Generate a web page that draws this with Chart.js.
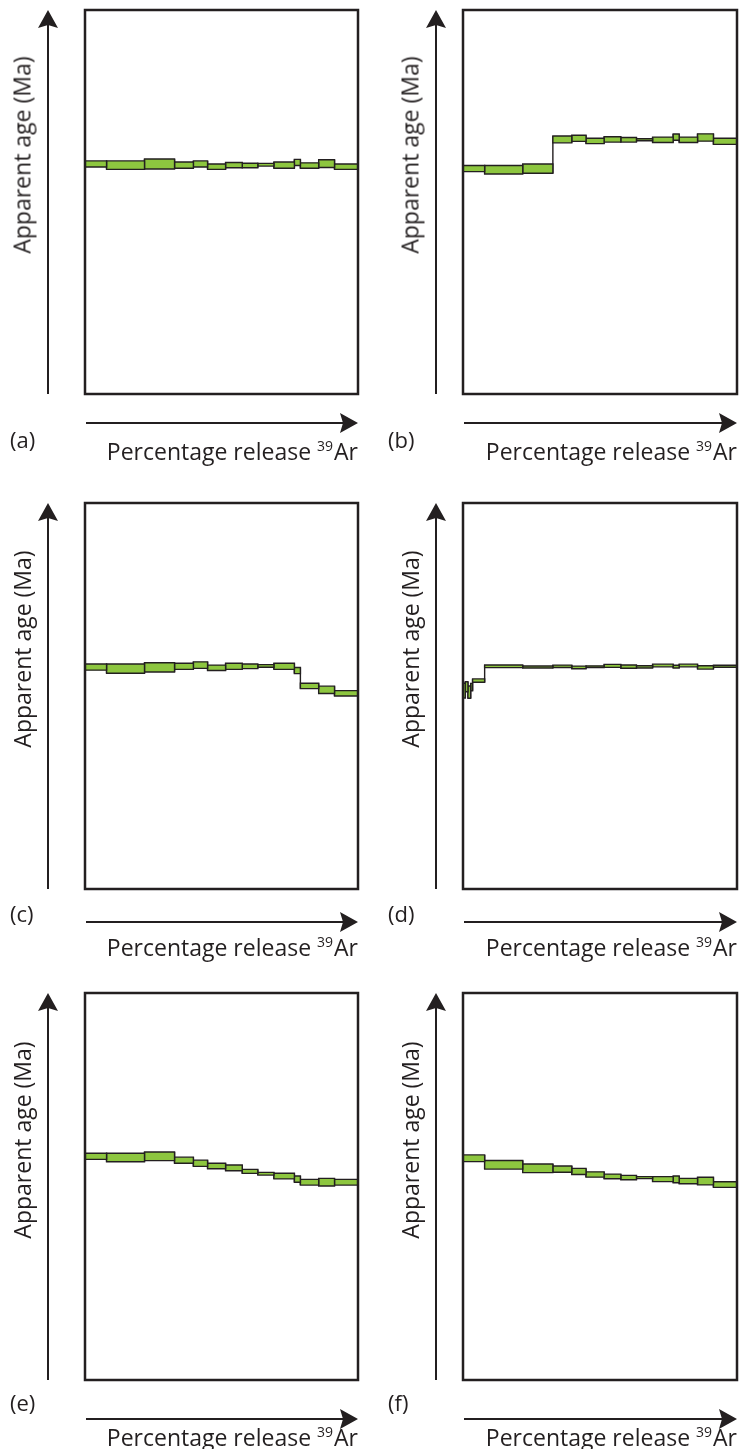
<!DOCTYPE html>
<html>
<head>
    <title>Age spectra</title>
    <script src="https://cdn.jsdelivr.net/npm/chart.js"></script>
    <style>
        body { margin: 0; background: #fff; }
        #page { position: relative; width: 744px; height: 1449px; overflow: hidden;
                font-family: 'Open Sans', sans-serif; color: #231f20; }
        #page canvas { position: absolute; }
        .txt { position: absolute; white-space: nowrap; font-size: 23px; line-height: 23px; }
        .letter { font-size: 22px; }
        .ylab { transform: translate(-50%, -50%) rotate(-90deg); }
        .xlab sup { font-size: 14px; vertical-align: 0; position: relative; top: -9px; margin-right: 1px; }
    </style>
</head>
<body>
<div id="page"></div>
<script>
    // cumulative 39Ar release (%) at the step boundaries
    const releaseSteps = [0, 7.9, 21.8, 32.8, 39.7, 44.9, 51.5, 57.6, 63.3, 69.2, 76.7, 78.9, 85.6, 91.4, 100];
    const releaseStepsD = [0, 0.85, 1.8, 2.8, 3.5, 7.9, 21.8, 32.8, 39.7, 44.9, 51.5, 57.6, 63.3, 69.2, 76.7, 78.9, 85.6, 91.4, 100];

    // apparent age of each step and its error (relative units, no ticks on the figure)
    const ageA = [59.9, 59.6, 59.9, 59.6, 59.9, 59.2, 59.6, 59.5, 59.7, 59.6, 60.3, 59.5, 60.0, 59.2];
    const errA = [0.8, 1.1, 1.3, 0.8, 0.8, 0.7, 0.7, 0.6, 0.35, 0.8, 0.8, 0.7, 1.0, 0.7];
    const ageB = [58.7, 58.4, 58.7, 66.3, 66.6, 65.9, 66.3, 66.2, 66.2, 66.2, 66.9, 66.2, 66.8, 65.8];
    const errB = [0.8, 1.1, 1.2, 0.9, 0.8, 0.7, 0.7, 0.6, 0.26, 0.7, 0.8, 0.7, 0.95, 0.8];
    const ageC = [57.5, 57.1, 57.4, 57.7, 58.0, 57.3, 57.7, 57.7, 57.8, 57.7, 56.6, 52.6, 51.6, 50.7];
    const errC = [0.8, 1.2, 1.2, 0.8, 0.85, 0.7, 0.8, 0.6, 0.34, 0.8, 0.8, 0.7, 0.95, 0.7];
    const ageD = [51.4, 52.4, 51.0, 52.3, 54.0, 57.7, 57.5, 57.7, 57.4, 57.6, 57.8, 57.6, 57.55, 57.9, 57.6, 57.9, 57.4, 57.7];
    const errD = [1.9, 1.3, 1.6, 0.95, 0.43, 0.35, 0.26, 0.3, 0.35, 0.21, 0.39, 0.43, 0.3, 0.35, 0.35, 0.35, 0.43, 0.26];
    const ageE = [57.8, 57.5, 57.8, 56.8, 56.0, 55.3, 54.8, 53.9, 53.3, 52.7, 51.9, 51.1, 51.1, 51.1];
    const errE = [0.78, 1.09, 1.12, 0.78, 0.81, 0.7, 0.74, 0.52, 0.35, 0.74, 0.81, 0.74, 0.99, 0.74];
    const ageF = [57.3, 55.6, 54.7, 54.5, 53.9, 53.1, 52.6, 52.3, 52.3, 51.9, 51.85, 51.4, 51.4, 50.5];
    const errF = [0.87, 1.11, 1.12, 0.81, 0.78, 0.68, 0.61, 0.57, 0.26, 0.65, 0.87, 0.7, 0.99, 0.72];

    const panelLetters = ['(a)', '(b)', '(c)', '(d)', '(e)', '(f)'];
    const yTitle = 'Apparent age (Ma)';
    const xTitle = 'Percentage release';
    const xMass = '39';
    const xElement = 'Ar';

    const green = '#8dc63f';
    const ink = '#231f20';

    // box = plot frame on the page [left, top, right, bottom]
    const panels = [
        {steps: releaseSteps,  age: ageA, err: errA, box: [85, 10, 358, 394],    col: 0, arrowY: 423,  letterY: 440,  labelTop: 440},
        {steps: releaseSteps,  age: ageB, err: errB, box: [463, 10, 737, 394],   col: 1, arrowY: 423,  letterY: 440,  labelTop: 440},
        {steps: releaseSteps,  age: ageC, err: errC, box: [85, 503, 358, 889],   col: 0, arrowY: 922,  letterY: 914,  labelTop: 936},
        {steps: releaseStepsD, age: ageD, err: errD, box: [463, 503, 737, 889],  col: 1, arrowY: 922,  letterY: 914,  labelTop: 936},
        {steps: releaseSteps,  age: ageE, err: errE, box: [85, 993, 358, 1380],  col: 0, arrowY: 1419, letterY: 1403, labelTop: 1426},
        {steps: releaseSteps,  age: ageF, err: errF, box: [463, 993, 737, 1380], col: 1, arrowY: 1419, letterY: 1403, labelTop: 1426}
    ];
    const rowTops = [0, 480, 970, 1449];

    function arrowHead(ctx, tx, ty, dx, dy) {
        const len = 18, half = 10, notch = 3;
        const nx = -dy, ny = dx;
        ctx.beginPath();
        ctx.moveTo(tx, ty);
        ctx.lineTo(tx - dx * len + nx * half, ty - dy * len + ny * half);
        ctx.lineTo(tx - dx * (len - notch), ty - dy * (len - notch));
        ctx.lineTo(tx - dx * len - nx * half, ty - dy * len - ny * half);
        ctx.closePath();
        ctx.fill();
    }

    // plot frame plus the two axis arrows
    const frameArrows = {
        id: 'frameArrows',
        afterDatasetsDraw(chart, args, opts) {
            const {ctx, chartArea: a} = chart;
            ctx.save();
            ctx.strokeStyle = ink;
            ctx.fillStyle = ink;
            ctx.lineWidth = 2.5;
            ctx.lineJoin = 'miter';
            ctx.strokeRect(a.left, a.top, a.right - a.left, a.bottom - a.top);
            ctx.lineWidth = 2;
            // y arrow
            const ax = a.left - opts.yGap;
            ctx.beginPath();
            ctx.moveTo(ax, a.bottom);
            ctx.lineTo(ax, a.top + 12);
            ctx.stroke();
            arrowHead(ctx, ax, a.top, 0, -1);
            // x arrow
            const ay = a.bottom + opts.xGap;
            ctx.beginPath();
            ctx.moveTo(a.left + 1, ay);
            ctx.lineTo(a.right - 12, ay);
            ctx.stroke();
            arrowHead(ctx, a.right, ay, 1, 0);
            ctx.restore();
        }
    };

    function stepDatasets(steps, age, err) {
        const sets = [];
        const joins = [];
        for (let i = 0; i < age.length; i++) {
            const lo = age[i] - err[i], hi = age[i] + err[i];
            sets.push({
                data: [
                    {x: steps[i], y: lo}, {x: steps[i], y: hi},
                    {x: steps[i + 1], y: hi}, {x: steps[i + 1], y: lo},
                    {x: steps[i], y: lo}
                ],
                fill: 'shape',
                backgroundColor: green,
                borderColor: ink,
                borderWidth: 1.4,
                borderJoinStyle: 'miter',
                borderCapStyle: 'square',
                pointRadius: 0
            });
            if (i < age.length - 1) {
                const lo2 = age[i + 1] - err[i + 1], hi2 = age[i + 1] + err[i + 1];
                joins.push({x: steps[i + 1], y: Math.min(lo, lo2)}, {x: steps[i + 1], y: Math.max(hi, hi2)}, {x: steps[i + 1], y: null});
            }
        }
        sets.push({data: joins, fill: false, borderColor: ink, borderWidth: 1.4, pointRadius: 0, spanGaps: false});
        return sets;
    }

    const page = document.getElementById('page');

    function addText(html, cls, style) {
        const d = document.createElement('div');
        d.className = 'txt ' + cls;
        d.innerHTML = html;
        Object.assign(d.style, style);
        page.appendChild(d);
    }

    panels.forEach((p, k) => {
        const row = Math.floor(k / 2);
        const cx = p.col * 372, cy = rowTops[row];
        const cw = 372, ch = rowTops[row + 1] - cy;
        const [L, T, R, B] = p.box;
        const canvas = document.createElement('canvas');
        canvas.width = cw;
        canvas.height = ch;
        canvas.style.left = cx + 'px';
        canvas.style.top = cy + 'px';
        page.appendChild(canvas);

        new Chart(canvas.getContext('2d'), {
            type: 'line',
            data: {datasets: stepDatasets(p.steps, p.age, p.err)},
            options: {
                responsive: false,
                animation: false,
                layout: {padding: {left: L - cx, top: T - cy, right: cx + cw - R, bottom: cy + ch - B}},
                scales: {
                    x: {type: 'linear', min: 0, max: 100, display: false},
                    y: {type: 'linear', min: 0, max: 100, display: false}
                },
                plugins: {
                    legend: {display: false},
                    tooltip: {enabled: false},
                    frameArrows: {yGap: p.col === 0 ? 37 : 27, xGap: p.arrowY - B}
                }
            },
            plugins: [frameArrows]
        });

        addText(panelLetters[k], 'letter', {left: (p.col === 0 ? 10 : 388) + 'px', top: (p.letterY - 12) + 'px'});
        addText(xTitle + ' <sup>' + xMass + '</sup>' + xElement, 'xlab', {right: (744 - R) + 'px', top: p.labelTop + 'px'});
        addText(yTitle, 'ylab', {left: (p.col === 0 ? 22 : 410) + 'px', top: ((T + B) / 2 - 47) + 'px'});
    });
</script>
</body>
</html>
